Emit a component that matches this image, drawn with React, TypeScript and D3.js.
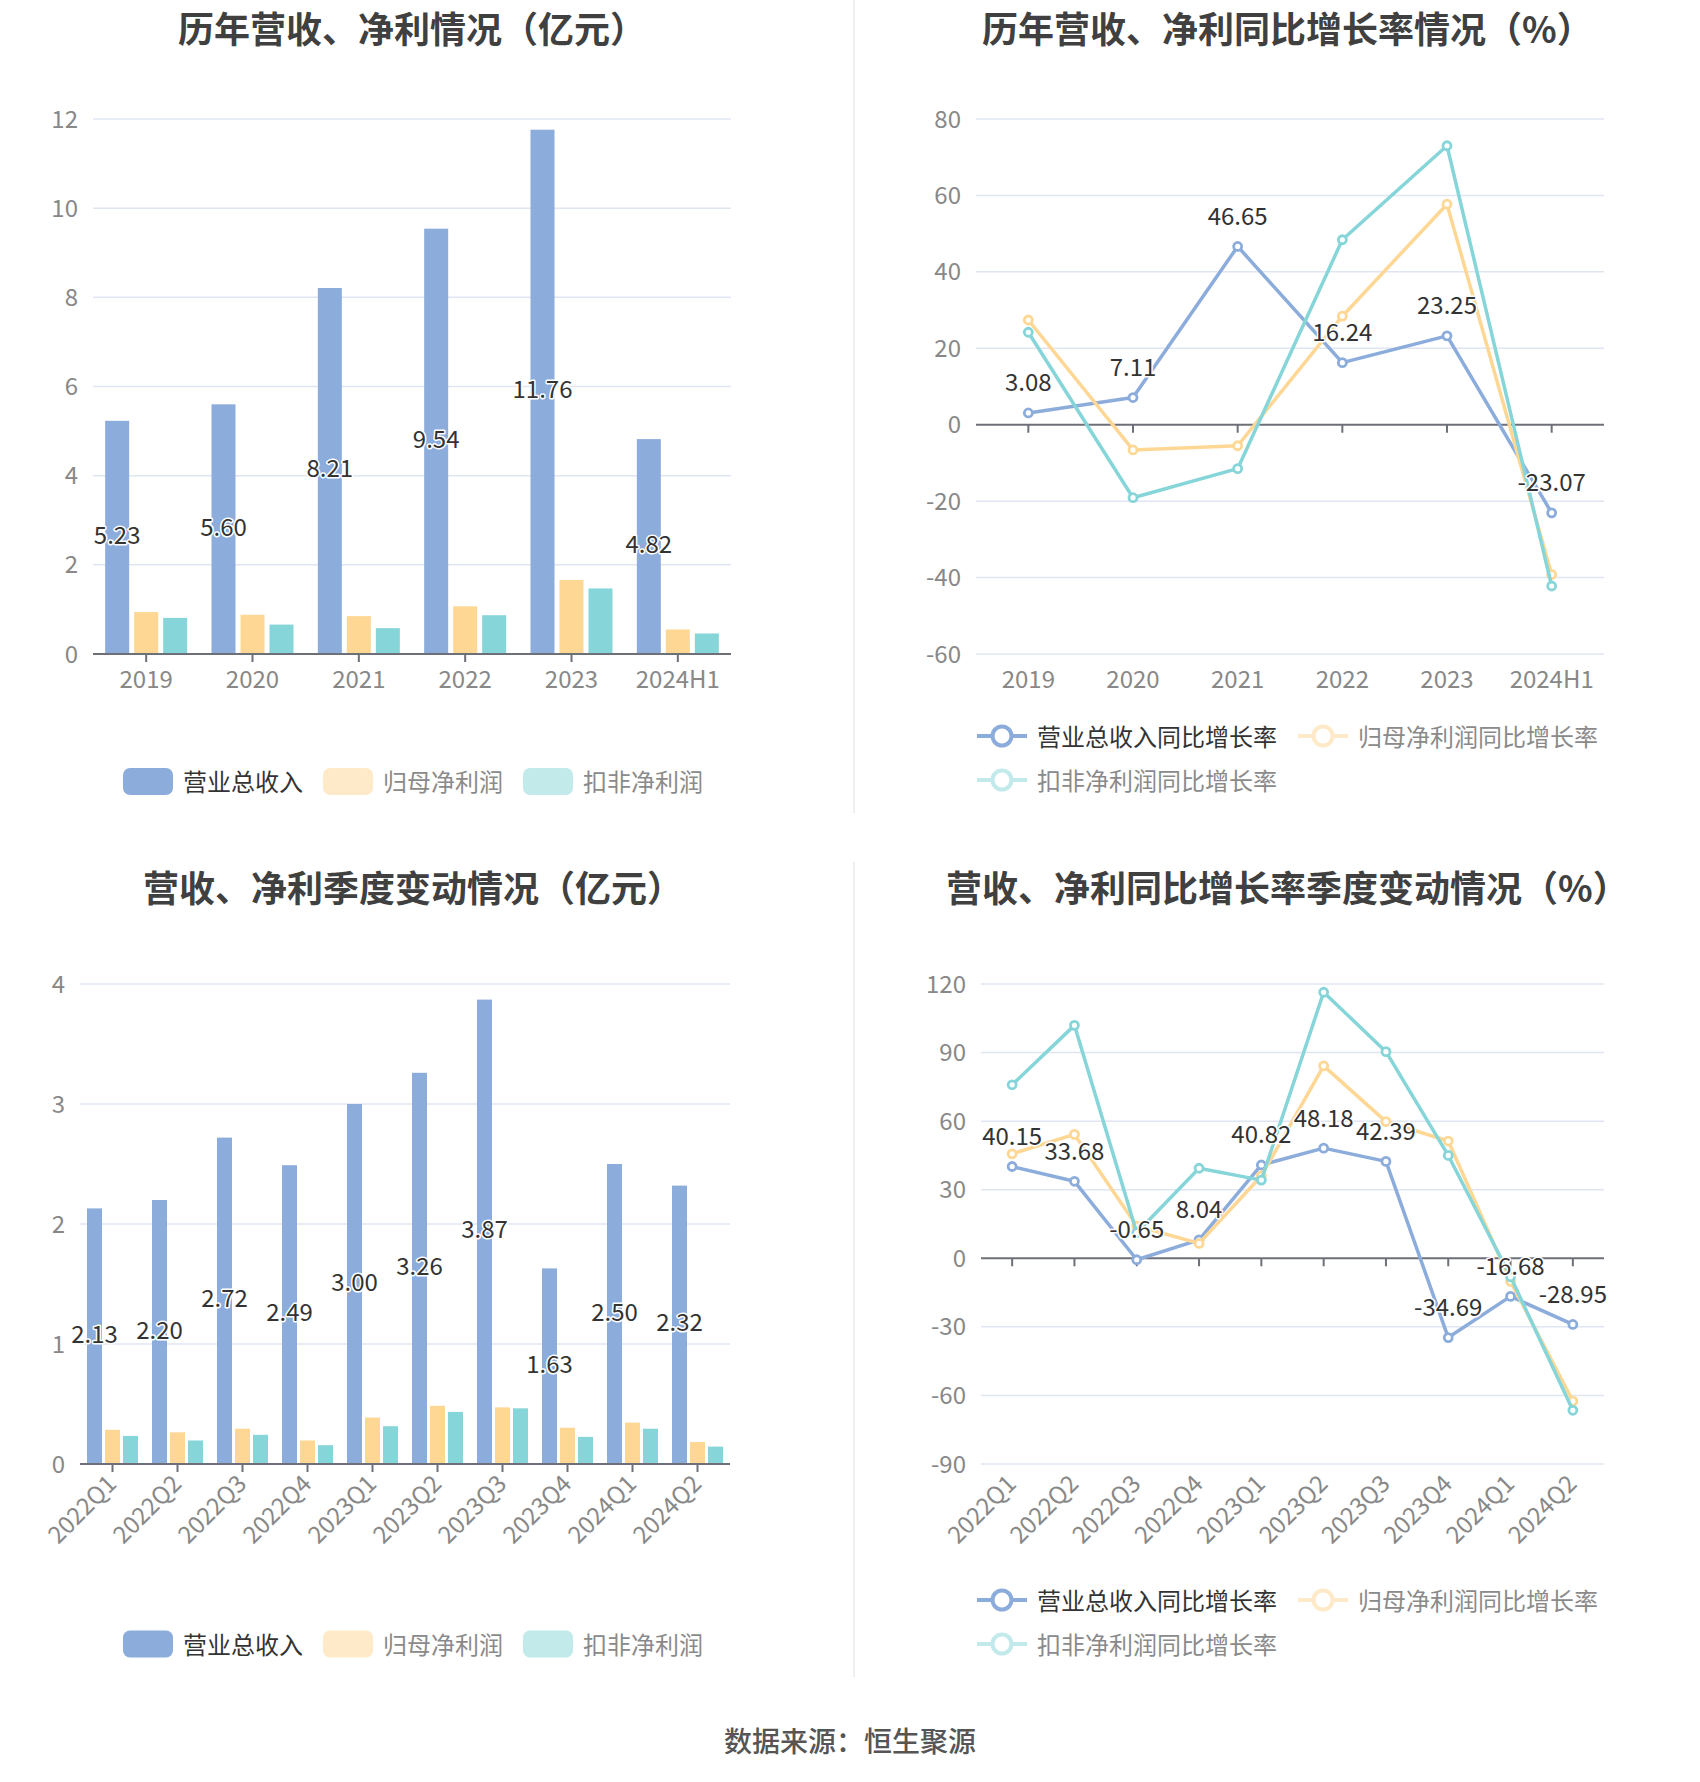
import * as d3 from "d3";

// --- data
const yearCats = ["2019", "2020", "2021", "2022", "2023", "2024H1"];
const yearRevenue = [5.23, 5.6, 8.21, 9.54, 11.76, 4.82];
const yearNetProfit = [0.94, 0.88, 0.85, 1.07, 1.66, 0.55];
const yearDeductedProfit = [0.81, 0.66, 0.58, 0.87, 1.47, 0.46];
const yearRevenueGrowth = [3.08, 7.11, 46.65, 16.24, 23.25, -23.07];
const yearNetGrowth = [27.4, -6.6, -5.5, 28.4, 57.7, -39.2];
const yearDeductedGrowth = [24.2, -19.1, -11.5, 48.4, 73.0, -42.2];

const quarterCats = ["2022Q1", "2022Q2", "2022Q3", "2022Q4", "2023Q1", "2023Q2", "2023Q3", "2023Q4", "2024Q1", "2024Q2"];
const quarterRevenue = [2.13, 2.2, 2.72, 2.49, 3.0, 3.26, 3.87, 1.63, 2.5, 2.32];
const quarterNetProfit = [0.285, 0.264, 0.294, 0.196, 0.387, 0.485, 0.472, 0.302, 0.345, 0.183];
const quarterDeductedProfit = [0.234, 0.196, 0.243, 0.157, 0.315, 0.434, 0.464, 0.226, 0.294, 0.145];
const quarterRevenueGrowth = [40.15, 33.68, -0.65, 8.04, 40.82, 48.18, 42.39, -34.69, -16.68, -28.95];
const quarterNetGrowth = [45.7, 54.2, 14.1, 6.5, 36.0, 84.2, 59.8, 51.3, -10.1, -62.5];
const quarterDeductedGrowth = [75.9, 101.9, 11.2, 39.4, 34.2, 116.4, 90.4, 45.0, -8.1, -66.5];

const yearAmountTicks = [0, 2, 4, 6, 8, 10, 12];
const yearGrowthTicks = [-60, -40, -20, 0, 20, 40, 60, 80];
const quarterAmountTicks = [0, 1, 2, 3, 4];
const quarterGrowthTicks = [-90, -60, -30, 0, 30, 60, 90, 120];

const barNames = ["营业总收入", "归母净利润", "扣非净利润"];
const lineNames = ["营业总收入同比增长率", "归母净利润同比增长率", "扣非净利润同比增长率"];

const COLORS = ["#8cacdb", "#fed795", "#86d5d8"];
const FADED = ["#8cacdb", "#fee9c9", "#c3eaeb"];
const FONT = '"Noto Sans CJK SC", "Noto Sans", sans-serif';
const GRID = "#e0e6f1";
const AXIS = "#6e7079";
const LABEL = "#888";

type Frame = { left: number; right: number; top: number; bottom: number };

const Title = ({ x, y, text }: { x: number; y: number; text: string }) => (
     <text x={x} y={y} fontSize={36} fontWeight="bold" fill="#404040" dominantBaseline="central">
          {text}
     </text>
);

const valueLabel = (x: number, y: number, t: string, key: any) => (
     <text key={key} x={x} y={y} textAnchor="middle" dominantBaseline="central" fontSize={24}
          fill="#333" stroke="#fff" strokeWidth={3} paintOrder="stroke" strokeLinejoin="round">
          {t}
     </text>
);

const YAxis = ({ frame, y, ticks }: { frame: Frame; y: d3.ScaleLinear<number, number>; ticks: number[] }) => (
     <g>
          {ticks.map(t => (
               <g key={t}>
                    {t !== 0 && <line x1={frame.left} x2={frame.right} y1={y(t)} y2={y(t)} stroke={GRID} strokeWidth={1.5} />}
                    <text x={frame.left - 15} y={y(t) - 2} textAnchor="end" dominantBaseline="central" fontSize={24} fill={LABEL}>{t}</text>
               </g>
          ))}
     </g>
);

const XAxis = ({ frame, x, axisY, labelY, cats, rotate }:
     { frame: Frame; x: d3.ScaleBand<string>; axisY: number; labelY: number; cats: string[]; rotate: boolean }) => (
     <g>
          <line x1={frame.left} x2={frame.right} y1={axisY} y2={axisY} stroke={AXIS} strokeWidth={2} />
          {cats.map(c => {
               const cx = x(c)! + x.bandwidth() / 2;
               return (
                    <g key={c}>
                         <line x1={cx} x2={cx} y1={axisY} y2={axisY + 8} stroke={AXIS} strokeWidth={2} />
                         {rotate ? (
                              <text transform={`translate(${cx - 2},${labelY}) rotate(-45)`} textAnchor="end"
                                   dominantBaseline="central" fontSize={24} fill={LABEL}>{c}</text>
                         ) : (
                              <text x={cx} y={labelY} textAnchor="middle" dominantBaseline="central" fontSize={24} fill={LABEL}>{c}</text>
                         )}
                    </g>
               );
          })}
     </g>
);

const BarLegend = ({ y }: { y: number }) => {
     const xs = [123, 323, 523];
     return (
          <g>
               {barNames.map((n, i) => (
                    <g key={n}>
                         <rect x={xs[i]} y={y - 13.5} width={50} height={27} rx={7} fill={FADED[i]} />
                         <text x={xs[i] + 60} y={y - 1} dominantBaseline="central" fontSize={24} fill={i === 0 ? "#333" : "#8a8a8a"}>{n}</text>
                    </g>
               ))}
          </g>
     );
};

const LineLegend = ({ y }: { y: number }) => {
     const pos = [[977, y], [1298, y], [977, y + 44]];
     return (
          <g>
               {lineNames.map((n, i) => (
                    <g key={n}>
                         <line x1={pos[i][0]} x2={pos[i][0] + 50} y1={pos[i][1]} y2={pos[i][1]} stroke={FADED[i]} strokeWidth={4} />
                         <circle cx={pos[i][0] + 25} cy={pos[i][1]} r={9.5} fill="#fff" stroke={FADED[i]} strokeWidth={4} />
                         <text x={pos[i][0] + 60} y={pos[i][1] - 1} dominantBaseline="central" fontSize={24} fill={i === 0 ? "#333" : "#8a8a8a"}>{n}</text>
                    </g>
               ))}
          </g>
     );
};

type BarProps = {
     frame: Frame; cats: string[]; series: number[][]; ticks: number[];
     barW: number; gap: number; rotate: boolean; labelY: number;
};

const BarChart = ({ frame, cats, series, ticks, barW, gap, rotate, labelY }: BarProps) => {
     const x = d3.scaleBand<string>().domain(cats).range([frame.left, frame.right]);
     const y = d3.scaleLinear().domain([0, d3.max(ticks)!]).range([frame.bottom, frame.top]);
     const groupW = barW * 3 + gap * 2;
     const inner = d3.scaleBand<number>().domain([0, 1, 2]).range([-groupW / 2, groupW / 2])
          .paddingInner(gap / (barW + gap)).paddingOuter(0);
     return (
          <g>
               <YAxis frame={frame} y={y} ticks={ticks} />
               {series.map((s, si) => (
                    <g key={si}>
                         {s.map((v, i) => {
                              const cx = x(cats[i])! + x.bandwidth() / 2;
                              return <rect key={i} x={cx + inner(si)!} y={y(v)} width={inner.bandwidth()}
                                   height={y(0) - y(v)} fill={COLORS[si]} />;
                         })}
                    </g>
               ))}
               <XAxis frame={frame} x={x} axisY={y(0)} labelY={labelY} cats={cats} rotate={rotate} />
               {series[0].map((v, i) => {
                    const cx = x(cats[i])! + x.bandwidth() / 2 + inner(0)! + inner.bandwidth() / 2;
                    return valueLabel(cx, (y(v) + y(0)) / 2 - 4, v.toFixed(2), i);
               })}
          </g>
     );
};

type LineProps = { frame: Frame; cats: string[]; series: number[][]; ticks: number[]; rotate: boolean; labelY: number };

const LineChart = ({ frame, cats, series, ticks, rotate, labelY }: LineProps) => {
     const x = d3.scaleBand<string>().domain(cats).range([frame.left, frame.right]);
     const y = d3.scaleLinear().domain(d3.extent(ticks) as [number, number]).range([frame.bottom, frame.top]);
     const cx = (i: number) => x(cats[i])! + x.bandwidth() / 2;
     const line = d3.line<number>().x((_, i) => cx(i)).y(d => y(d));
     return (
          <g>
               <YAxis frame={frame} y={y} ticks={ticks} />
               <XAxis frame={frame} x={x} axisY={y(0)} labelY={labelY} cats={cats} rotate={rotate} />
               {series.map((s, si) => (
                    <g key={si}>
                         <path d={line(s)!} fill="none" stroke={COLORS[si]} strokeWidth={3.5} strokeLinejoin="round" />
                         {s.map((v, i) => (
                              <circle key={i} cx={cx(i)} cy={y(v)} r={4} fill="#fff" stroke={COLORS[si]} strokeWidth={2.8} />
                         ))}
                    </g>
               ))}
               {series[0].map((v, i) => valueLabel(cx(i), y(v) - 32, v.toFixed(2), i))}
          </g>
     );
};

export default function App() {
     return (
          <svg width={1700} height={1782} fontFamily={FONT}
               style={{ position: "absolute", left: 0, top: 0, background: "#fff" }}>
               <rect width={1700} height={1782} fill="#fff" />
               <line x1={854} x2={854} y1={0} y2={813} stroke="#efefef" strokeWidth={2} />
               <line x1={854} x2={854} y1={862} y2={1677} stroke="#efefef" strokeWidth={2} />

               <Title x={178} y={27} text="历年营收、净利情况（亿元）" />
               <BarChart frame={{ left: 93, right: 731, top: 119, bottom: 654 }} cats={yearCats}
                    series={[yearRevenue, yearNetProfit, yearDeductedProfit]} ticks={yearAmountTicks}
                    barW={24} gap={5} rotate={false} labelY={677} />
               <BarLegend y={781.5} />

               <Title x={982} y={27} text="历年营收、净利同比增长率情况（%）" />
               <LineChart frame={{ left: 976, right: 1604, top: 119, bottom: 654 }} cats={yearCats}
                    series={[yearRevenueGrowth, yearNetGrowth, yearDeductedGrowth]} ticks={yearGrowthTicks}
                    rotate={false} labelY={677} />
               <LineLegend y={736} />

               <Title x={143} y={886} text="营收、净利季度变动情况（亿元）" />
               <BarChart frame={{ left: 80, right: 730, top: 984, bottom: 1464 }} cats={quarterCats}
                    series={[quarterRevenue, quarterNetProfit, quarterDeductedProfit]} ticks={quarterAmountTicks}
                    barW={15} gap={3} rotate={true} labelY={1478} />
               <BarLegend y={1644} />

               <Title x={946} y={886} text="营收、净利同比增长率季度变动情况（%）" />
               <LineChart frame={{ left: 981, right: 1604, top: 984, bottom: 1464 }} cats={quarterCats}
                    series={[quarterRevenueGrowth, quarterNetGrowth, quarterDeductedGrowth]} ticks={quarterGrowthTicks}
                    rotate={true} labelY={1478} />
               <LineLegend y={1600} />

               <text x={850} y={1740} textAnchor="middle" dominantBaseline="central" fontSize={28} fontWeight={500} fill="#555">
                    数据来源：恒生聚源
               </text>
          </svg>
     );
}
